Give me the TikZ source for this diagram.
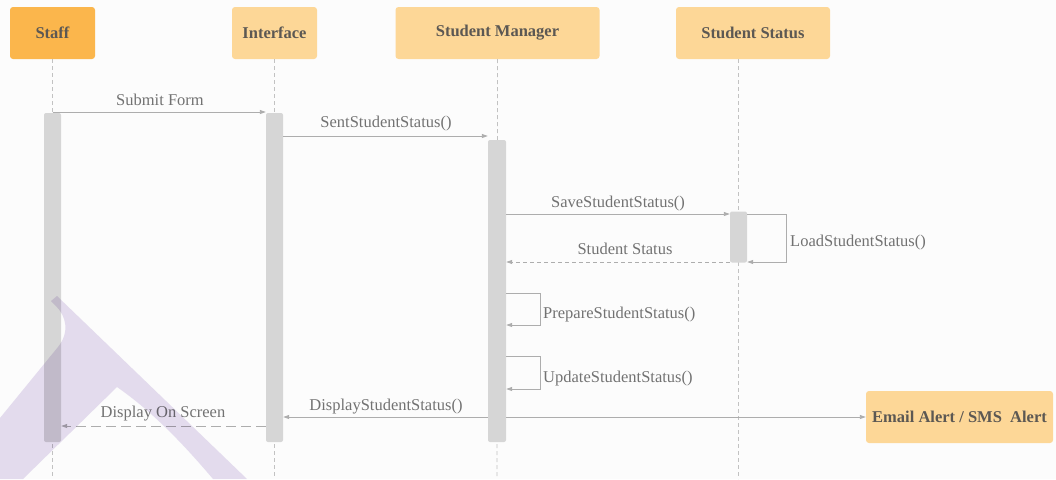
\documentclass[tikz,border=0pt]{standalone}
\usepackage{fontspec}
\setmainfont{Liberation Serif}
\usetikzlibrary{arrows.meta,calc}

\definecolor{bgc}{HTML}{FCFCFC}
\definecolor{actorA}{HTML}{FBB64C}
\definecolor{actorB}{HTML}{FDD797}
\definecolor{headtxt}{HTML}{5C5853}
\definecolor{linec}{HTML}{ADADAD}
\definecolor{lifec}{HTML}{C2C2C2}
\definecolor{barc}{HTML}{D6D6D6}
\definecolor{labc}{HTML}{727272}
\definecolor{markc}{HTML}{E6DEF0}

\tikzset{
  actor/.style={rectangle, rounded corners=3pt, minimum height=52pt, inner sep=0pt,
    font=\fontsize{16.5}{18}\selectfont\bfseries, text=headtxt},
  actbar/.style={rectangle, rounded corners=2pt, fill=barc, draw=none, minimum width=17pt, inner sep=0pt},
  lifeline/.style={draw=lifec, line width=0.8pt, dash pattern=on 4pt off 3pt},
  msg/.style={draw=linec, line width=0.9pt, -{Triangle[length=6pt,width=4pt]}},
  reply/.style={msg, dash pattern=on 4pt off 3pt},
  longreply/.style={msg, dash pattern=on 10pt off 5pt},
  lbl/.style={font=\fontsize{16.5}{18}\selectfont, text=labc, inner sep=0pt}
}

\begin{document}
\begin{tikzpicture}[x=1pt,y=-1pt]
\fill[bgc] (0,0) rectangle (1056,479);
\useasboundingbox (0,0) rectangle (1056,479);

% participants
\node[actor, fill=actorA, minimum width=85pt]  (staff) at (52.5,33) {Staff};
\node[actor, fill=actorB, minimum width=85pt]  (iface) at (274.5,33) {Interface};
\node[actor, fill=actorB, minimum width=204pt] (mgr)   at (497.5,33) {Student Manager};
\node[actor, fill=actorB, minimum width=154pt] (stat)  at (753,33) {Student Status};
\node[actor, fill=actorB, minimum width=187pt, minimum height=52pt] (alert) at (959.5,417) {Email Alert / SMS\ \ Alert};

% lifeline ends
\coordinate (staffEnd) at (52.5,479);
\coordinate (ifaceEnd) at (274.5,479);
\coordinate (mgrEnd)   at (497,479);
\coordinate (statTop)  at (738.5,59);
\coordinate (statEnd)  at (738.5,479);

\draw[lifeline] (staff.south) -- (staffEnd);
\draw[lifeline] (iface.south) -- (ifaceEnd);
\draw[lifeline] (mgr.south) -- (mgrEnd);
\draw[lifeline] (statTop) -- (statEnd);

% activation bars
\node[actbar, minimum height=329pt] (staffAct) at (52.5,277.5) {};
\node[actbar, minimum height=329pt] (ifaceAct) at (274.5,277.5) {};
\node[actbar, minimum height=302pt, minimum width=18pt] (mgrAct) at (497,291) {};
\node[actbar, minimum height=51pt] (statAct) at (738.5,237) {};

% message rows
\coordinate (r1) at (0,112);
\coordinate (r2) at (0,136);
\coordinate (r3) at (0,214);
\coordinate (r4) at (0,262);
\coordinate (r5) at (0,417);
\coordinate (r6) at (0,426);
\coordinate (loadR) at (786,0);
\coordinate (loopR) at (540,0);
\coordinate (p1) at (0,293);
\coordinate (p2) at (0,325);
\coordinate (u1) at (0,356);
\coordinate (u2) at (0,389);

% messages
\draw[msg] (staff.south |- r1) -- (ifaceAct.west |- r1);
\node[lbl] (lSubmit) at (160,100) {Submit Form};

\draw[msg] (ifaceAct.east |- r2) -- (mgrAct.west |- r2);
\node[lbl] (lSent) at (386,123.5) {SentStudentStatus()};

\draw[msg] (mgrAct.east |- r3) -- (statAct.west |- r3);
\node[lbl] (lSave) at (618,203.5) {SaveStudentStatus()};

\draw[msg] (statAct.east |- r3) -- (loadR |- r3) -- (loadR |- r4) -- (statAct.east |- r4);
\node[lbl, anchor=west] (lLoad) at (790,242.5) {LoadStudentStatus()};

\draw[reply] (statAct.west |- r4) -- (mgrAct.east |- r4);
\node[lbl] (lStat) at (625,249) {Student Status};

\draw[msg] (mgrAct.east |- p1) -- (loopR |- p1) -- (loopR |- p2) -- (mgrAct.east |- p2);
\node[lbl, anchor=west] (lPrep) at (543,314.5) {PrepareStudentStatus()};

\draw[msg] (mgrAct.east |- u1) -- (loopR |- u1) -- (loopR |- u2) -- (mgrAct.east |- u2);
\node[lbl, anchor=west] (lUpd) at (543,378.5) {UpdateStudentStatus()};

\draw[msg] (mgrAct.west |- r5) -- (ifaceAct.east |- r5);
\node[lbl] (lDisp) at (386,406.5) {DisplayStudentStatus()};

\draw[msg] (mgrAct.east |- r5) -- (alert.west);

\draw[longreply] (ifaceAct.west |- r6) -- (staffAct.east |- r6);
\node[lbl] (lScreen) at (163,414) {Display On Screen};

% faint emblem in the lower left corner
\begin{scope}[blend mode=multiply]
\fill[markc] (0,418) -- (58,347) .. controls (70,332) and (66,316) .. (56,306)
  -- (51,301) -- (57,296) -- (247,479) -- (213,479)
  .. controls (180,440) and (150,410) .. (117,387) -- (23,479)
  -- (0,479) -- cycle;
\end{scope}
\end{tikzpicture}
\end{document}
